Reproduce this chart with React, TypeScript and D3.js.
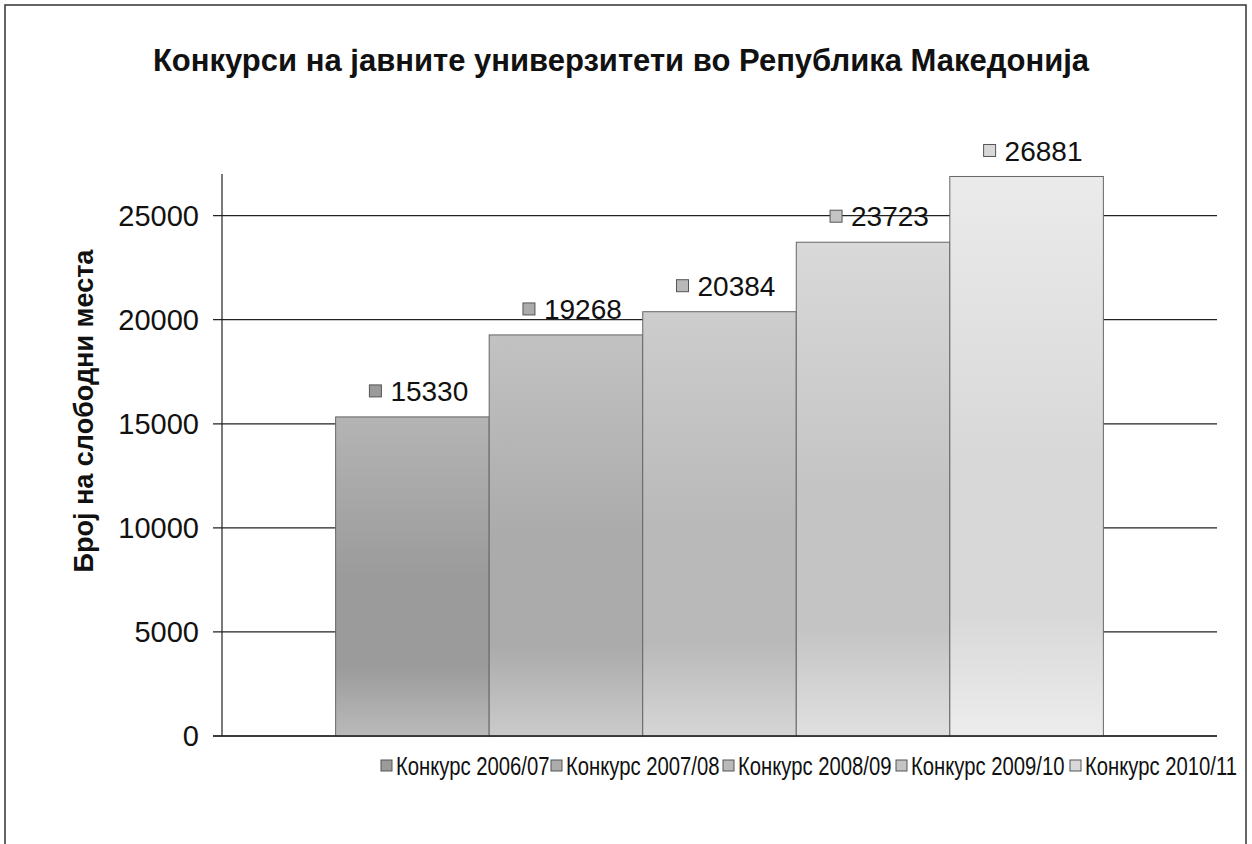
import React, { useEffect, useRef } from 'react';
import * as d3 from 'd3';

// ==== data

const series = ['Конкурс 2006/07', 'Конкурс 2007/08', 'Конкурс 2008/09', 'Конкурс 2009/10', 'Конкурс 2010/11'];
const values = [15330, 19268, 20384, 23723, 26881];
const yTicks = [0, 5000, 10000, 15000, 20000, 25000];

// top / middle / bottom gray per bar
const barTop = ['#b4b4b4', '#c2c2c2', '#cdcdcd', '#d9d9d9', '#ebebeb'];
const barMid = ['#9b9b9b', '#ababab', '#b9b9b9', '#c4c4c4', '#d8d8d8'];
const barBottom = ['#bababa', '#cbcbcb', '#d6d6d6', '#e0e0e0', '#ededed'];

const title = 'Конкурси на јавните универзитети во Република Македонија';
const yTitle = 'Број на слободни места';

const FONT = '"Liberation Sans", Arial, sans-serif';

// ====

const App = () => {
    const node = useRef<SVGSVGElement | null>(null);

    useEffect(() => {
        const svg = d3.select(node.current);
        svg.selectAll('*').remove();

        const W = 1252, H = 844;
        const plotLeft = 222, plotRight = 1217, plotTop = 174, plotBottom = 736;

        const y = d3.scaleLinear().domain([0, 27000]).range([plotBottom, plotTop]);
        const x = d3.scaleBand<string>()
            .domain(series)
            .range([plotLeft, plotRight])
            .paddingInner(0)
            .paddingOuter(0.74);

        const defs = svg.append('defs');
        series.forEach((s, i) => {
            const g = defs.append('linearGradient')
                .attr('id', 'bar' + i)
                .attr('x1', 0).attr('y1', 0).attr('x2', 0).attr('y2', 1);
            g.append('stop').attr('offset', '0%').attr('stop-color', barTop[i]);
            g.append('stop').attr('offset', '50%').attr('stop-color', barMid[i]);
            g.append('stop').attr('offset', '78%').attr('stop-color', barMid[i]);
            g.append('stop').attr('offset', '100%').attr('stop-color', barBottom[i]);
        });

        // frame
        svg.append('rect')
            .attr('x', 5).attr('y', 5)
            .attr('width', W - 11).attr('height', H + 10)
            .attr('fill', '#fff')
            .attr('stroke', '#333')
            .attr('stroke-width', 1.5);

        // title
        svg.append('text')
            .attr('x', 621).attr('y', 71)
            .attr('text-anchor', 'middle')
            .attr('font-family', FONT)
            .attr('font-weight', 'bold')
            .attr('font-size', 31)
            .attr('fill', '#111')
            .text(title);

        // gridlines + ticks
        const grid = svg.append('g');
        grid.selectAll('line')
            .data(yTicks)
            .enter()
            .append('line')
            .attr('x1', plotLeft - 9)
            .attr('x2', plotRight)
            .attr('y1', (d) => y(d))
            .attr('y2', (d) => y(d))
            .attr('stroke', '#222')
            .attr('stroke-width', 1.2);

        grid.selectAll('text')
            .data(yTicks)
            .enter()
            .append('text')
            .attr('x', 199)
            .attr('y', (d) => y(d))
            .attr('dy', '0.36em')
            .attr('text-anchor', 'end')
            .attr('font-family', FONT)
            .attr('font-size', 29)
            .attr('fill', '#111')
            .text((d) => String(d));

        // axis line
        svg.append('line')
            .attr('x1', plotLeft).attr('x2', plotLeft)
            .attr('y1', plotTop).attr('y2', plotBottom)
            .attr('stroke', '#222')
            .attr('stroke-width', 1.2);

        svg.append('text')
            .attr('transform', 'translate(93,411) rotate(-90)')
            .attr('text-anchor', 'middle')
            .attr('font-family', FONT)
            .attr('font-weight', 'bold')
            .attr('font-size', 27)
            .attr('fill', '#111')
            .text(yTitle);

        // bars
        svg.append('g')
            .selectAll('rect')
            .data(values)
            .enter()
            .append('rect')
            .attr('x', (d, i) => x(series[i]) as number)
            .attr('y', (d) => y(d))
            .attr('width', x.bandwidth())
            .attr('height', (d) => plotBottom - y(d))
            .attr('fill', (d, i) => 'url(#bar' + i + ')')
            .attr('stroke', '#666')
            .attr('stroke-width', 1);

        // baseline
        svg.append('line')
            .attr('x1', plotLeft - 9).attr('x2', plotRight)
            .attr('y1', plotBottom).attr('y2', plotBottom)
            .attr('stroke', '#222')
            .attr('stroke-width', 1.5);

        // data labels
        const labels = svg.append('g')
            .selectAll('g')
            .data(values)
            .enter()
            .append('g')
            .attr('transform', (d, i) =>
                'translate(' + ((x(series[i]) as number) + x.bandwidth() / 2 - 43) + ',' + (y(d) - 26) + ')');

        labels.append('rect')
            .attr('x', 0).attr('y', -6)
            .attr('width', 12).attr('height', 12)
            .attr('fill', (d, i) => barMid[i])
            .attr('stroke', '#555')
            .attr('stroke-width', 1);

        labels.append('text')
            .attr('x', 21)
            .attr('dy', '0.36em')
            .attr('font-family', FONT)
            .attr('font-size', 28)
            .attr('fill', '#111')
            .text((d) => String(d));

        // legend
        const legendX = [381, 551, 723, 896, 1070];
        const legend = svg.append('g')
            .selectAll('g')
            .data(series)
            .enter()
            .append('g')
            .attr('transform', (d, i) => 'translate(' + legendX[i] + ',766)');

        legend.append('rect')
            .attr('x', 0).attr('y', -6)
            .attr('width', 11).attr('height', 11)
            .attr('fill', (d, i) => barMid[i])
            .attr('stroke', '#555')
            .attr('stroke-width', 1);

        legend.append('text')
            .attr('transform', 'translate(15,0) scale(0.78,1)')
            .attr('dy', '0.36em')
            .attr('font-family', FONT)
            .attr('font-size', 26)
            .attr('fill', '#111')
            .text((d) => d);
    }, []);

    return (
        <svg
            ref={node}
            width={1252}
            height={844}
            style={{ position: 'absolute', left: 0, top: 0, display: 'block' }}>
        </svg>
    );
};

export default App;
